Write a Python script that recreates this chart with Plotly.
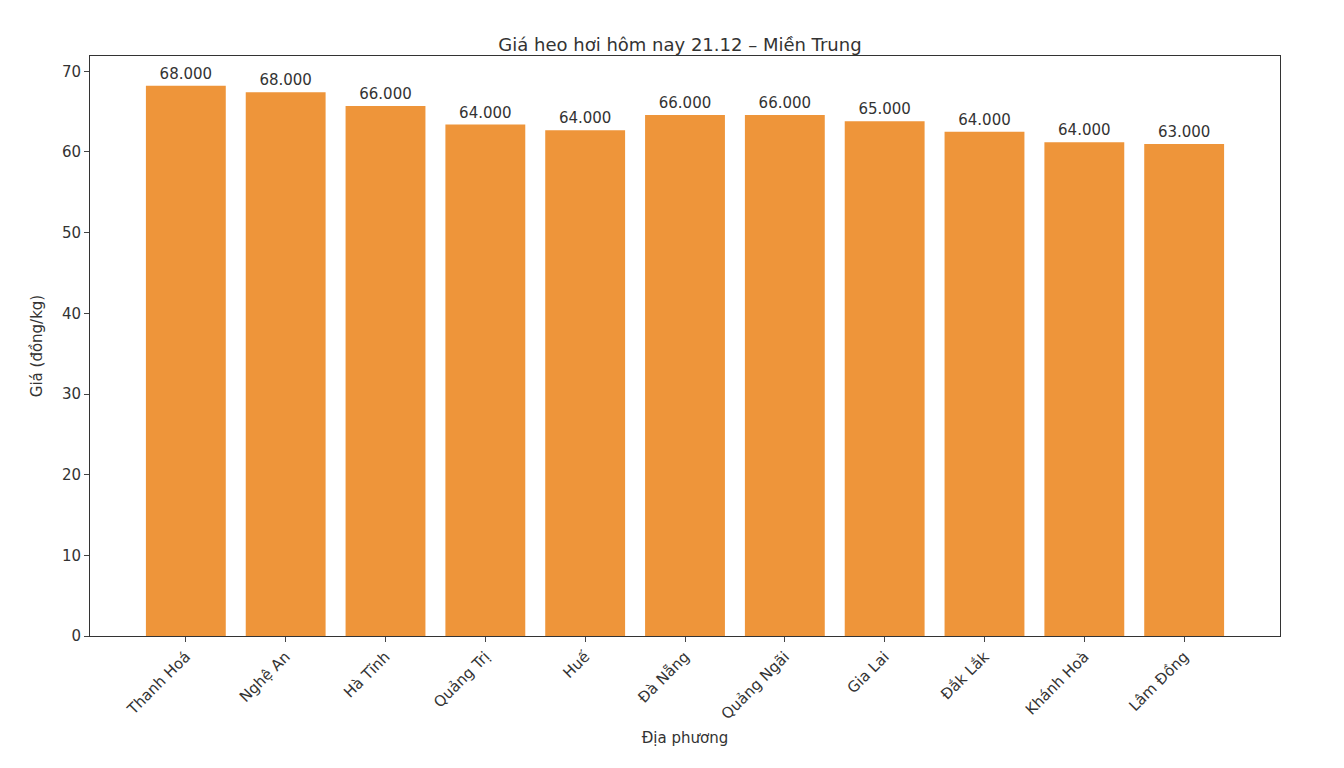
import plotly.graph_objects as go

provinces = ["Thanh Hoá", "Nghệ An", "Hà Tĩnh", "Quảng Trị", "Huế", "Đà Nẵng",
             "Quảng Ngãi", "Gia Lai", "Đắk Lắk", "Khánh Hoà", "Lâm Đồng"]
bar_heights = [68.2, 67.4, 65.7, 63.4, 62.7, 64.6, 64.6, 63.8, 62.5, 61.2, 61.0]
price_labels = ["68.000", "68.000", "66.000", "64.000", "64.000", "66.000",
                "66.000", "65.000", "64.000", "64.000", "63.000"]
y_ticks = [0, 10, 20, 30, 40, 50, 60, 70]

fig = go.Figure(go.Bar(
    x=list(range(len(provinces))), y=bar_heights,
    text=price_labels, textposition="outside", cliponaxis=False,
    textfont=dict(size=15, color="#333"),
    marker=dict(color="#EE953A", line=dict(width=0)), width=0.8,
))
fig.update_layout(
    width=1344, height=768,
    paper_bgcolor="white", plot_bgcolor="white",
    font=dict(family="DejaVu Sans", color="#333"),
    title=dict(text="Giá heo hơi hôm nay 21.12 – Miền Trung", x=0.5, xanchor="center",
               y=0.96, font=dict(size=18)),
    margin=dict(l=82, r=72, t=48, b=140),
    showlegend=False,
)
fig.update_xaxes(
    tickmode="array", tickvals=list(range(len(provinces))), ticktext=provinces,
    tickangle=-45, range=[-0.96, 10.96], showline=True, linecolor="#333", mirror=True,
    ticks="outside", ticklen=5, tickfont=dict(size=15), showgrid=False, automargin=False,
    title=dict(text="Địa phương", font=dict(size=15), standoff=10),
)
fig.update_yaxes(
    range=[0, 71.9], tickvals=y_ticks, showline=True, linecolor="#333", mirror=True,
    ticks="outside", ticklen=5, tickfont=dict(size=15), showgrid=False, zeroline=False,
    automargin=False,
    title=dict(text="Giá (đồng/kg)", font=dict(size=15)),
)
fig.write_html("out.html")
